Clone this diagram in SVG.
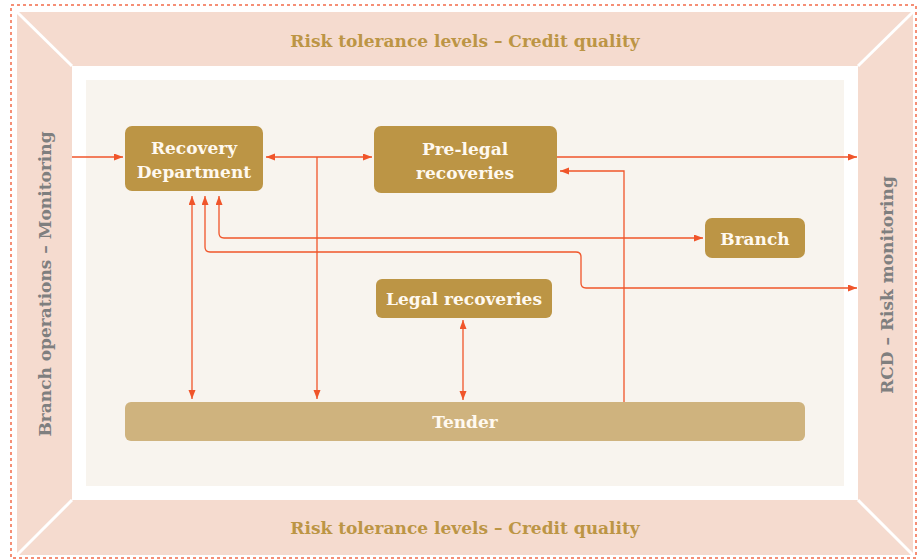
<svg xmlns="http://www.w3.org/2000/svg" width="922" height="559" viewBox="0 0 922 559">
<style>
.frame-t{font-family:"DejaVu Serif","Liberation Serif",serif;font-weight:bold;font-size:17px;fill:#BC9545;text-anchor:middle}
.side-t{font-family:"DejaVu Serif","Liberation Serif",serif;font-weight:bold;font-size:17px;fill:#7F7F7F;text-anchor:middle}
.node{fill:#BC9545}
.node-l{fill:#CFB37E}
.nt{font-family:"DejaVu Serif","Liberation Serif",serif;font-weight:bold;font-size:17px;fill:#FFF9F0;text-anchor:middle}
.c{fill:none;stroke:#F0552A;stroke-width:1.3}
</style>
<defs>
<marker id="ah" markerUnits="userSpaceOnUse" markerWidth="10" markerHeight="8" refX="9" refY="3.5" orient="auto-start-reverse">
<path d="M0,0 L9,3.5 L0,7 z" fill="#F0552A"/>
</marker>
</defs>
<g id="frame">
<rect x="11" y="5" width="905" height="553" fill="none" stroke="#F26B4A" stroke-width="1.5" stroke-dasharray="3,3"/>
<rect x="17" y="12" width="896" height="543" fill="#F5DBCF"/>
<rect x="72" y="66" width="786" height="434" fill="#FFFFFF"/>
<rect x="86" y="80" width="758" height="406" fill="#F8F4EE"/>
<g stroke="#FFFFFF" stroke-width="3">
<line x1="17" y1="12" x2="72" y2="66"/>
<line x1="913" y1="12" x2="858" y2="66"/>
<line x1="17" y1="555" x2="72" y2="500"/>
<line x1="913" y1="555" x2="858" y2="500"/>
</g>
<text class="frame-t" x="465" y="47">Risk tolerance levels – Credit quality</text>
<text class="frame-t" x="465" y="534">Risk tolerance levels – Credit quality</text>
<text class="side-t" transform="translate(51,284) rotate(-90)">Branch operations – Monitoring</text>
<text class="side-t" transform="translate(893,285) rotate(-90)">RCD – Risk monitoring</text>
</g>
<g id="connectors">
<path class="c" d="M72,157 H123" marker-end="url(#ah)"/>
<path class="c" d="M266,157 H372" marker-start="url(#ah)" marker-end="url(#ah)"/>
<path class="c" d="M317,157 V399" marker-end="url(#ah)"/>
<path class="c" d="M192,196 V399" marker-start="url(#ah)" marker-end="url(#ah)"/>
<path class="c" d="M219,196 V233 Q219,238 224,238 H703" marker-start="url(#ah)" marker-end="url(#ah)"/>
<path class="c" d="M205,196 V247 Q205,252 210,252 H576 Q581,252 581,257 V283 Q581,288 586,288 H857" marker-start="url(#ah)" marker-end="url(#ah)"/>
<path class="c" d="M557,157 H857" marker-end="url(#ah)"/>
<path class="c" d="M624,402 V171 H560" marker-end="url(#ah)"/>
<path class="c" d="M463,320 V400" marker-start="url(#ah)" marker-end="url(#ah)"/>
</g>
<g id="recovery">
<rect class="node" x="125" y="126" width="138" height="65" rx="7"/>
<text class="nt" x="194" y="154">Recovery</text>
<text class="nt" x="194" y="178">Department</text>
</g>
<g id="prelegal">
<rect class="node" x="374" y="126" width="183" height="67" rx="7"/>
<text class="nt" x="465" y="155">Pre-legal</text>
<text class="nt" x="465" y="179">recoveries</text>
</g>
<g id="branch">
<rect class="node" x="705" y="218" width="100" height="40" rx="7"/>
<text class="nt" x="755" y="245">Branch</text>
</g>
<g id="legal">
<rect class="node" x="376" y="279" width="176" height="39" rx="6"/>
<text class="nt" x="464" y="305">Legal recoveries</text>
</g>
<g id="tender">
<rect class="node-l" x="125" y="402" width="680" height="39" rx="6"/>
<text class="nt" x="465" y="428">Tender</text>
</g>
</svg>
